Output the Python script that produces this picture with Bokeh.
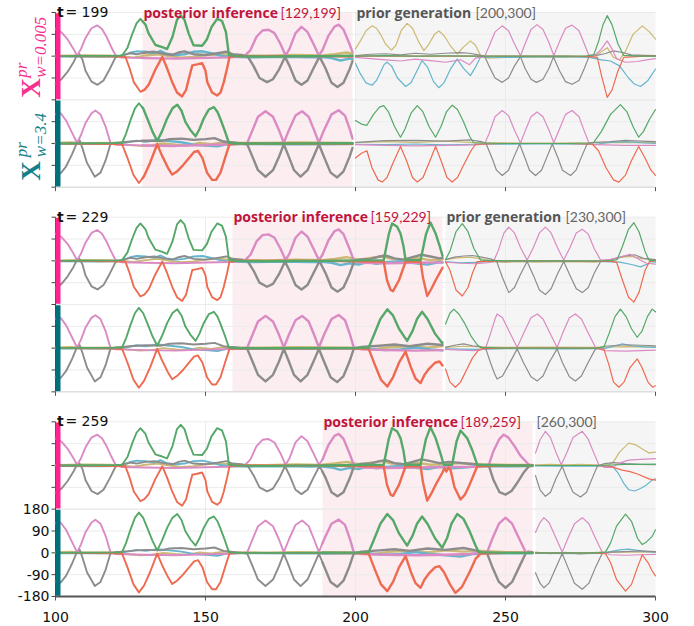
import numpy as np
from bokeh.plotting import figure
from bokeh.models import Range1d, Label
from bokeh.embed import file_html
from bokeh.resources import INLINE

# ---------------- data ----------------
X_TICKS = [100, 150, 200, 250, 300]
Y_TICKS = [-180, -90, 0, 90, 180]
T_END = [199, 229, 259]
POST_START = [129, 159, 189]
T_MAX = 300
SERIES = ["olive", "cyan", "gray", "pink", "red", "green"]
COLORS = {"olive": "#CCB974", "cyan": "#64B5CD", "gray": "#8C8C8C",
          "pink": "#DA8BC3", "red": "#EE6A50", "green": "#55A868"}
ROW_SUBS = ["w=0.005", "w=3.4"]

# reconstruction, row w=0.005 (t, value in degrees)
TOP_PINK = [(100,112),(102,98),(104,70),(106,30),(107.2,2),(108.5,30),(110,75),(112,115),(113.9,127),(115.5,112),(117,80),(118.5,40),(120,3),(122,-6),(130,-8),(140,-10),(150,-7),(158,-5),(163,0),(165,25),(167,80),(169,106),(171,109),(173,95),(175,50),(176.7,3),(178,30),(180,95),(182,121),(184,100),(186,50),(187.8,3),(189,25),(191,85),(193,122),(194.4,130),(196,110),(198,50),(199.4,3),(202,-8),(210,-10),(220,-8),(230,-6),(240,-5),(243,-2),(244.4,2),(246,60),(248,110),(249.4,127),(251,115),(253,80),(255,40),(257.8,3),(259,0)]
TOP_GRAY = [(100,-113),(102,-95),(104,-65),(106,-25),(107,0),(108,8),(109,-15),(110,-60),(112,-105),(114,-118),(116,-100),(118,-55),(120,-5),(122,3),(125,12),(127,8),(130,15),(133,18),(136,10),(139,5),(141,15),(143,20),(146,8),(150,5),(154,12),(157,18),(159,8),(162,5),(164,0),(166,-40),(168,-90),(170.5,-107),(172.5,-95),(174.5,-55),(176.5,-3),(178,-40),(180,-100),(182,-118),(184,-100),(186,-50),(188,-2),(190,-50),(192,-110),(194,-127),(196,-110),(198,-55),(199.5,-3),(201,5),(205,8),(208,18),(210,22),(213,10),(216,5),(219,15),(222,25),(225,18),(228,10),(231,15),(234,12),(237,8),(240,5),(243,0),(244.5,-3),(246,-60),(248,-110),(250,-120),(252,-105),(254,-70),(256,-30),(257.8,-3),(259,0)]
TOP_GREEN = [(100,0),(110,1),(120,2),(122.2,3),(124,35),(125.6,92),(127,135),(128.3,154),(130,130),(131,95),(133.3,46),(135.6,37),(137.2,29),(139,80),(140.5,150),(141.7,168),(143,150),(144.4,93),(146,45),(148.9,43),(150.5,70),(152,120),(153.9,154),(155.5,145),(156.8,100),(157.8,5),(160,0),(170,-2),(180,0),(190,0),(200,2),(209.4,3),(211.1,110),(212.2,154),(213.9,140),(215,113),(216,60),(216.7,3),(221.7,3),(223.5,110),(225,158),(226.7,113),(228.3,51),(229.4,3),(232.2,3),(233.7,100),(235,144),(237.2,113),(238.9,64),(240.6,3),(250,0),(259,0)]
TOP_RED = [(100,0),(110,-1),(120,-2),(123.3,-3),(124.7,-50),(126.1,-107),(128.3,-147),(129.7,-138),(131.1,-117),(133.3,-55),(135.6,-3),(137.2,-50),(138.9,-107),(140.5,-150),(142.2,-166),(143.5,-140),(144.4,-95),(145.6,-38),(147.2,-34),(148.9,-29),(150,-60),(150.6,-107),(152.2,-150),(153.9,-162),(155,-150),(156.1,-107),(157.2,-50),(158,-3),(160,0),(190,0),(200,-2),(209.4,-3),(210.5,-80),(211.7,-120),(212.5,-125),(214.5,-80),(216.7,-3),(221.7,-3),(222.5,-70),(223.9,-145),(225.3,-115),(226.7,-80),(228.9,-31),(229.6,-12),(230.3,-25),(231,-8),(231.7,-20),(233,-90),(235,-140),(236.5,-120),(238,-80),(239.5,-35),(240.6,-3),(250,0),(259,0)]
TOP_CYAN = [(100,-2),(115,-3),(120,-2),(123,5),(125,15),(127,20),(130,18),(133,12),(135,22),(137,10),(140,5),(143,8),(146,18),(149,20),(152,12),(155,2),(158,-3),(165,-5),(175,-3),(185,-5),(189,-4),(192,-8),(195,-18),(198,-10),(201,-15),(204,-5),(207,-12),(210,-6),(215,-2),(220,-10),(224,-15),(228,-5),(232,-12),(236,-8),(240,-4),(245,-2),(252,-3),(259,-2)]
TOP_OLIVE = [(100,2),(110,4),(118,3),(122,0),(126,-5),(130,3),(134,8),(138,0),(142,-6),(146,-3),(150,5),(155,8),(160,3),(170,2),(180,5),(189,3),(193,8),(197,15),(201,5),(205,12),(209,18),(212,8),(216,5),(220,12),(225,3),(230,6),(235,10),(240,5),(248,3),(259,2)]

# reconstruction, row w=3.4
BOT_PINK = [(100,122),(101.7,125),(103.5,95),(105.5,45),(107.2,2),(108.5,35),(110,85),(112,125),(113.3,136),(115,120),(116.7,70),(118.3,3),(120,-5),(130,-8),(140,-10),(150,-6),(160,-3),(163.9,2),(165.5,50),(167.5,110),(170,133),(172.5,110),(174.5,55),(176.1,3),(177.8,55),(180,115),(182.2,133),(184.4,110),(186.2,55),(187.8,3),(189.5,55),(192,120),(194.4,137),(196.5,115),(198.2,55),(199.4,3),(202,-5),(210,-8),(220,-10),(230,-8),(238,-5),(243.9,2),(245.5,55),(247.8,120),(250,145),(252.2,120),(254.5,60),(256.7,3),(259,0)]
BOT_GRAY = [(100,-118),(101.7,-123),(103.5,-95),(105.5,-45),(107.2,5),(108,14),(109,-20),(110.5,-80),(113.1,-137),(115,-120),(116.7,-70),(118.3,-3),(120,3),(125,8),(130,12),(135,10),(138,18),(142,20),(146,15),(150,18),(153,22),(156,8),(160,3),(163.9,-3),(165.5,-50),(167.5,-110),(170,-137),(172.5,-110),(174.5,-55),(176.1,-3),(177.8,-55),(179.5,-110),(181.7,-137),(184,-110),(186,-55),(187.8,-3),(189.5,-55),(191.7,-120),(193.9,-140),(196,-115),(198,-55),(199.4,-3),(202,5),(208,10),(213,15),(218,8),(224,18),(230,12),(236,20),(240,10),(243.9,-3),(245.5,-55),(247.8,-120),(250,-144),(252.2,-120),(254.5,-60),(256.7,-3),(257.5,5),(259,3)]
BOT_GREEN = [(100,0),(110,1),(120,2),(122.2,3),(123.5,40),(125,96),(126.5,145),(127.8,166),(129.2,145),(130.6,103),(132.3,50),(133.9,10),(135.5,50),(137.2,103),(139,145),(140.6,160),(142,135),(143.3,89),(145,55),(146.7,30),(148,60),(149.4,103),(151.1,140),(152.8,150),(154,130),(155,100),(156.5,50),(157.8,3),(160,0),(180,0),(200,1),(204.4,3),(206,50),(208.3,120),(210.6,160),(212.5,135),(214.5,80),(217.2,30),(219,70),(220.5,120),(222.2,150),(224,120),(226.5,60),(228.9,21),(230.5,60),(232,120),(233.9,160),(236,140),(238,90),(240,30),(241.1,3),(250,0),(259,0)]
BOT_RED = [(100,0),(110,-1),(120,-2),(122.2,-3),(124,-60),(126,-130),(127.8,-163),(129.5,-135),(131.5,-80),(133.9,-3),(135.5,-50),(137.5,-100),(138.9,-128),(140.5,-115),(142.5,-90),(144.5,-60),(146.2,-35),(147.5,-30),(149,-60),(150.5,-120),(152.2,-150),(153.5,-150),(155,-120),(156.5,-60),(158,-3),(160,0),(200,-1),(204.4,-3),(206.5,-70),(208.5,-130),(210.6,-158),(212.5,-120),(214.5,-60),(216.7,-14),(218.5,-80),(220,-125),(221.7,-144),(223,-110),(224.5,-85),(226.5,-60),(228,-55),(229.5,-80),(231.5,-130),(233.3,-165),(235.5,-140),(238,-80),(240,-25),(241.7,-3),(250,0),(259,0)]
BOT_CYAN = [(100,-2),(120,-2),(124,5),(127,12),(130,8),(134,15),(138,10),(142,5),(146,-5),(150,-8),(154,-12),(157,-3),(160,-2),(180,-3),(199,-2),(204,-3),(210,-8),(215,-5),(220,3),(225,-5),(230,-10),(235,-15),(239,-5),(245,-2),(259,-2)]
BOT_OLIVE = [(100,3),(105,5),(110,2),(120,3),(124,-5),(128,-10),(132,-8),(136,0),(140,-5),(144,-8),(148,2),(152,-3),(156,5),(160,3),(170,2),(180,4),(190,3),(200,2),(206,-5),(212,5),(218,8),(224,2),(230,10),(236,5),(242,8),(250,3),(259,2)]

# prior generation, group t=199, row w=0.005
G1T_PINK = [(200,-5),(205,-10),(210,-15),(215,-20),(220,-12),(225,-18),(230,-25),(235,-15),(238,-35),(240,-8),(243,-2),(244.5,40),(246.5,100),(248.9,125),(251,105),(253,50),(255,2),(256.5,50),(258.5,110),(260.5,130),(262.5,110),(264.5,55),(266.1,3),(268,60),(270,115),(272.2,128),(274.5,105),(276.3,50),(277.8,3),(280,5),(282,30),(283.9,63),(285.5,30),(287,-10),(290,-25),(294,-22),(297,-15),(300,-10)]
G1T_GRAY = [(200,2),(205,8),(210,10),(215,5),(220,12),(225,8),(230,12),(235,15),(238,12),(241,5),(243,0),(244.5,-40),(246.5,-90),(248.9,-108),(251,-90),(253,-40),(255,-2),(256.5,-50),(258.5,-95),(260.3,-108),(262.5,-95),(264.5,-50),(266,-3),(268,-60),(270,-105),(272.2,-116),(274.5,-100),(276.3,-50),(277.8,-3),(280,2),(283,10),(286,22),(289,15),(292,5),(296,3),(300,2)]
G1T_GREEN = [(200,0),(210,2),(220,0),(230,1),(240,0),(250,0),(260,0),(270,0),(277,1),(279.4,5),(281,60),(282.5,130),(283.9,167),(285.5,130),(287.5,50),(289.4,3),(295,0),(300,0)]
G1T_RED = [(200,0),(240,0),(270,0),(278,-2),(280.6,-5),(282,-80),(283.9,-170),(285.5,-140),(287.5,-60),(289.4,-5),(292,-3),(296,0),(300,0)]
G1T_CYAN = [(200,-30),(201.5,-70),(203.5,-110),(205.5,-120),(207,-100),(208.3,-67),(209.5,-35),(210.5,-25),(212,-40),(214,-90),(216.7,-125),(218.5,-110),(220.5,-60),(222.2,-18),(224,-45),(226,-105),(227.8,-130),(229.5,-110),(231.8,-50),(233.9,-12),(236,-50),(238.3,-80),(240,-45),(241.7,-3),(250,-5),(260,-3),(270,-2),(278,-5),(282,-15),(285,-20),(288,-40),(291,-90),(293,-115),(295,-125),(297.5,-100),(300,-53)]
G1T_OLIVE = [(200,30),(201.5,60),(203.5,105),(205.5,125),(207,115),(208.3,91),(210,50),(212,25),(213.5,45),(215.2,105),(217.2,135),(219,115),(221,60),(222.8,23),(224.5,50),(226.3,90),(227.8,104),(229.5,85),(231.8,40),(233.9,9),(235.8,35),(238.3,63),(240,45),(241.7,3),(244,-8),(250,-5),(260,-3),(270,-5),(278,0),(281,10),(283.9,35),(286,-5),(288,-15),(290,20),(292.5,90),(295.6,125),(298,100),(300,70)]

# prior generation, group t=199, row w=3.4
G1B_PINK = [(200,-5),(210,-8),(220,-10),(230,-8),(240,-6),(243,-2),(244.5,40),(246.5,110),(248.9,136),(251,115),(253,55),(255,2),(256.5,50),(258.5,110),(260.5,130),(262.5,110),(264.5,55),(266.1,3),(268,60),(270,120),(272.2,136),(274.5,110),(276.3,50),(277.8,3),(280,-5),(290,-8),(300,-8)]
G1B_GRAY = [(200,5),(210,12),(220,13),(230,10),(238,15),(242,8),(243.5,0),(245.5,-60),(247,-110),(248.9,-132),(251,-110),(253,-50),(254.7,-2),(256.5,-60),(258,-110),(260,-132),(262,-110),(264,-50),(265.6,-2),(267.5,-60),(269,-110),(271.7,-132),(273.5,-110),(275.5,-50),(277.2,-2),(280,5),(285,8),(290,13),(295,10),(300,8)]
G1B_GREEN = [(200,95),(202,80),(203.8,75),(206,120),(208,150),(209.4,156),(211,130),(213,70),(215,26),(216.5,60),(218.5,125),(220.6,156),(222.5,130),(224.5,70),(226.7,26),(228.5,70),(230.3,130),(232.2,158),(234,140),(236,90),(238,30),(239.4,3),(250,0),(260,0),(270,0),(278,2),(279.4,5),(282,50),(285,120),(288.3,160),(290.5,130),(292.5,70),(294.4,26),(296,50),(298,100),(300,140)]
G1B_RED = [(200,-60),(202,-40),(203.8,-30),(205.5,-100),(207.5,-150),(208.9,-159),(210.5,-140),(212.5,-80),(215,-12),(217,-70),(219,-140),(220.6,-159),(222.5,-140),(224.5,-80),(226.7,-12),(228.5,-70),(230.5,-140),(232.2,-159),(234,-140),(236,-90),(238.5,-30),(240,-3),(250,0),(270,0),(279,-3),(281,-30),(283.5,-100),(286,-150),(287.8,-159),(290,-130),(292,-70),(294.4,-12),(296.5,-60),(298.5,-110),(300,-131)]
G1B_CYAN = [(200,-3),(210,-5),(220,-2),(230,-6),(240,-3),(260,-2),(280,-3),(285,5),(290,8),(295,3),(300,0)]
G1B_OLIVE = [(200,3),(210,8),(220,5),(230,10),(240,4),(260,2),(280,3),(290,5),(300,4)]

# prior generation, group t=229, row w=0.005
G2T_PINK = [(230,-5),(235,-10),(240,-12),(244,-8),(246,-3),(247.5,40),(249.5,115),(251.1,139),(253,115),(255,55),(257.2,3),(259.3,55),(261.3,115),(263.3,139),(265.2,115),(267.3,55),(269.4,3),(271.5,55),(273.6,115),(275.6,130),(277.6,110),(279.6,50),(281.7,3),(285,5),(288,15),(291.5,27),(294,10),(297,-10),(300,-14)]
G2T_GRAY = [(230,5),(233,15),(236,20),(239,22),(242,15),(245,8),(247,0),(249,-70),(251.1,-131),(253,-110),(255,-55),(257.2,-3),(259.3,-60),(261.3,-120),(263.3,-139),(265.2,-115),(267.3,-55),(269.4,-3),(271.5,-60),(273.6,-115),(275.6,-131),(277.6,-110),(279.6,-50),(281.7,-3),(285,5),(290,20),(293,25),(296,10),(300,5)]
G2T_GREEN = [(230,5),(231.5,40),(233.5,120),(235.6,153),(237.5,120),(239.5,50),(241.7,3),(250,0),(260,0),(270,0),(280,0),(285,1),(287.2,5),(289,60),(291,130),(292.8,157),(294.5,120),(296.5,40),(297.8,3),(300,0)]
G2T_RED = [(230,-3),(231.5,-40),(233.5,-120),(235.6,-145),(237.5,-110),(239,-50),(240.6,-3),(250,0),(270,0),(285,-2),(287,-5),(289,-80),(291,-150),(292.8,-170),(294.5,-130),(296.5,-40),(298,-3),(300,0)]
G2T_CYAN = [(230,-3),(235,-8),(240,-6),(245,-3),(260,-2),(280,-2),(288,-5),(292,-15),(295,-25),(298,-10),(300,-8)]
G2T_OLIVE = [(230,5),(234,12),(238,15),(242,8),(246,-3),(250,-6),(255,-3),(260,-5),(270,-3),(280,-5),(285,5),(289,15),(292,18),(295,10),(300,3)]

# prior generation, group t=229, row w=3.4
G2B_PINK = [(230,-5),(235,-8),(240,-10),(242,-6),(243.5,5),(245,60),(246.5,120),(247.2,141),(249,125),(251,75),(253.9,3),(256,60),(258.5,125),(260.6,141),(262.5,120),(264.5,70),(267.2,3),(269,60),(271.3,125),(273.3,141),(275.3,120),(277.5,65),(280,3),(283,-10),(290,-12),(300,-8)]
G2B_GRAY = [(230,3),(233,12),(236,18),(239,10),(242,5),(243.5,-5),(245,-60),(246.5,-110),(247.2,-127),(249,-115),(251,-70),(253.9,-3),(256,-60),(258.5,-118),(260.6,-135),(262.5,-115),(264.5,-60),(267.2,-3),(269,-60),(271.3,-118),(273.3,-135),(275.3,-115),(277.5,-60),(280,-3),(283,8),(290,14),(295,12),(300,10)]
G2B_GREEN = [(230,100),(231.5,145),(232.8,161),(234.5,140),(236.5,100),(238.5,50),(240.5,15),(241.7,3),(250,0),(260,0),(270,0),(280,0),(282.8,5),(284.5,60),(286.5,130),(288.3,161),(290.2,130),(292,80),(293.9,45),(295.5,70),(297.3,130),(298.9,161),(300,150)]
G2B_RED = [(230,-86),(231.5,-140),(233.3,-161),(235,-140),(237,-90),(239,-40),(241,-8),(242.5,-2),(250,0),(270,0),(280,-1),(282.8,-5),(284.5,-70),(286,-140),(287.8,-161),(289.5,-140),(291.5,-80),(293.9,-44),(295.5,-80),(297.5,-140),(299,-161),(300,-155)]
G2B_CYAN = [(230,-3),(240,-5),(250,-2),(270,-3),(283,-2),(286,8),(289,18),(292,10),(296,5),(300,3)]
G2B_OLIVE = [(230,3),(236,8),(242,5),(250,3),(260,4),(280,3),(290,6),(300,5)]

# prior generation, group t=259, row w=0.005
G3T_PINK = [(260,51),(261.5,105),(263.3,141),(265,115),(266.8,55),(268.6,3),(270.5,55),(272.5,115),(275.6,141),(277.5,110),(279.5,50),(281.1,3),(283,-8),(285.5,-8),(288,10),(291,22),(295,25),(300,28)]
G3T_GRAY = [(260,-42),(261.5,-100),(263.3,-127),(265,-110),(266.8,-55),(268.9,-3),(270.5,-55),(272.5,-110),(275,-130),(277,-110),(279,-50),(280.6,-3),(283,8),(286,12),(290,8),(295,5),(300,3)]
G3T_GREEN = [(260,0),(280,0),(285,2),(290,5),(295,5),(300,6)]
G3T_RED = [(260,0),(270,0),(280,0),(284.4,-2),(286.5,-10),(288.9,-19),(291.5,-25),(294,-35),(297.8,-55),(300,-60)]
G3T_CYAN = [(260,-2),(270,-3),(280,-2),(285.6,-3),(287.5,-30),(289.5,-75),(291.1,-100),(293,-105),(295,-95),(297,-80),(298.9,-60),(300,-55)]
G3T_OLIVE = [(260,3),(265,5),(270,3),(275,5),(280,3),(284.4,2),(286,15),(288,55),(291.1,92),(293.5,85),(296,65),(297.8,52),(300,55)]

# prior generation, group t=259, row w=3.4
G3B_PINK = [(260,84),(261.5,125),(262.8,145),(264.5,125),(266.5,70),(268.9,3),(270.8,60),(273,120),(275.6,145),(277.8,120),(280,60),(282.2,3),(285,-8),(290,-10),(295,-8),(300,-6)]
G3B_GRAY = [(260,-82),(261.5,-125),(262.8,-144),(264.5,-125),(266.5,-70),(268.9,-3),(270.8,-60),(273,-125),(275.6,-150),(277.8,-125),(280,-60),(282.2,-3),(285,3),(290,5),(295,8),(300,5)]
G3B_GREEN = [(260,0),(270,0),(280,0),(283.3,3),(285,40),(287,110),(290,160),(292,130),(294,60),(295.6,34),(297,45),(298.9,68),(300,95)]
G3B_RED = [(260,0),(280,0),(283.3,-3),(285,-40),(287,-110),(290,-158),(292,-130),(294,-60),(295.6,-8),(297.5,-40),(298.9,-75),(300,-95)]
G3B_CYAN = [(260,-2),(275,-3),(282,-2),(285,5),(288,12),(291,15),(294,10),(297,5),(300,3)]
G3B_OLIVE = [(260,3),(265,-3),(270,2),(275,-5),(280,2),(290,4),(300,3)]

BASE = [
    dict(olive=TOP_OLIVE, cyan=TOP_CYAN, gray=TOP_GRAY, pink=TOP_PINK, red=TOP_RED, green=TOP_GREEN),
    dict(olive=BOT_OLIVE, cyan=BOT_CYAN, gray=BOT_GRAY, pink=BOT_PINK, red=BOT_RED, green=BOT_GREEN),
]
PRIOR = [
    [dict(olive=G1T_OLIVE, cyan=G1T_CYAN, gray=G1T_GRAY, pink=G1T_PINK, red=G1T_RED, green=G1T_GREEN),
     dict(olive=G1B_OLIVE, cyan=G1B_CYAN, gray=G1B_GRAY, pink=G1B_PINK, red=G1B_RED, green=G1B_GREEN)],
    [dict(olive=G2T_OLIVE, cyan=G2T_CYAN, gray=G2T_GRAY, pink=G2T_PINK, red=G2T_RED, green=G2T_GREEN),
     dict(olive=G2B_OLIVE, cyan=G2B_CYAN, gray=G2B_GRAY, pink=G2B_PINK, red=G2B_RED, green=G2B_GREEN)],
    [dict(olive=G3T_OLIVE, cyan=G3T_CYAN, gray=G3T_GRAY, pink=G3T_PINK, red=G3T_RED, green=G3T_GREEN),
     dict(olive=G3B_OLIVE, cyan=G3B_CYAN, gray=G3B_GRAY, pink=G3B_PINK, red=G3B_RED, green=G3B_GREEN)],
]

# ---------------- layout ----------------
PANEL_PX = 87.33
PX = 360 / PANEL_PX       # value units per pixel
TPX = 1 / 3               # time units per pixel
TOP_PAD = 12 * PX
GAP = 30 * PX
LEFT_PAD_PX = 55
RIGHT_PAD_PX = 25
BOTTOM_PAD = 30 * PX
OFFSETS = [1800 + 2 * GAP, 1440 + 2 * GAP, 1080 + GAP, 720 + GAP, 360, 0]
Y_MAX = OFFSETS[0] + 180 + TOP_PAD
Y_MIN = -180 - BOTTOM_PAD
X_MIN = 100 - LEFT_PAD_PX * TPX
X_MAX = T_MAX + RIGHT_PAD_PX * TPX

ROW_COLORS = ["#FF2290", "#00707C"]
LABEL_COLORS = ["#F5308F", "#13808A"]
CRIMSON = "#C0143C"
GRID = "#EBEBEB"
AXIS = "#444444"

p = figure(width=680, height=626, x_range=Range1d(X_MIN, X_MAX), y_range=Range1d(Y_MIN, Y_MAX),
           output_backend="svg", toolbar_location=None, y_axis_location=None, x_axis_location=None,
           min_border_left=0, min_border_right=0, min_border_top=0, min_border_bottom=0)
p.outline_line_color = None
p.grid.visible = False
p.background_fill_color = "white"
p.border_fill_color = "white"

for g in range(3):
    top = OFFSETS[2 * g] + 180
    bot = OFFSETS[2 * g + 1] - 180
    ps, te = POST_START[g], T_END[g]
    # shaded regions
    p.quad(left=[ps], right=[te], bottom=[bot], top=[top], fill_color="#FBEDF0", line_color=None)
    p.quad(left=[te + 1], right=[T_MAX], bottom=[bot], top=[top], fill_color="#F5F5F5", line_color=None)
    # grid
    gx = [t for t in X_TICKS if 100 < t < T_MAX]
    p.segment(x0=gx, x1=gx, y0=[bot] * len(gx), y1=[top] * len(gx), line_color=GRID, line_width=1)
    hy = [OFFSETS[2 * g + r] + v for r in range(2) for v in Y_TICKS if v != 0]
    p.segment(x0=[100] * len(hy), x1=[T_MAX] * len(hy), y0=hy, y1=hy, line_color=GRID, line_width=1)
    # y axis of the group: line + ticks
    p.segment(x0=[100], x1=[100], y0=[bot], y1=[top], line_color=AXIS, line_width=1)
    ty = sorted(set(OFFSETS[2 * g + r] + v for r in range(2) for v in Y_TICKS))
    p.segment(x0=[100 - 4 * TPX] * len(ty), x1=[100] * len(ty), y0=ty, y1=ty, line_color=AXIS, line_width=1)
    # x axis of the group
    last = g == 2
    p.segment(x0=[100], x1=[T_MAX], y0=[bot], y1=[bot], line_color="#555555" if last else "#D5D5D5",
              line_width=2 if last else 1)
    p.segment(x0=X_TICKS, x1=X_TICKS, y0=[bot] * 5, y1=[bot - 4 * PX] * 5, line_color="#555555", line_width=1)

# tick labels on the bottom panel
for v in Y_TICKS:
    p.add_layout(Label(x=100 - 6 * TPX, y=OFFSETS[5] + v, text="%d" % v, text_font="DejaVu Sans",
                       text_font_size="14px", text_color="#111111", text_align="right",
                       text_baseline="middle"))
for t in X_TICKS:
    p.add_layout(Label(x=t, y=-180 - 21 * PX, text="%d" % t, text_font="DejaVu Sans",
                       text_font_size="14px", text_color="#111111", text_align="center",
                       text_baseline="alphabetic"))


def seg(points, a, b):
    ts = np.array([q[0] for q in points], float)
    vs = np.array([q[1] for q in points], float)
    m = (ts > a) & (ts < b)
    x = np.concatenate([[a], ts[m], [b]])
    y = np.concatenate([[np.interp(a, ts, vs)], vs[m], [np.interp(b, ts, vs)]])
    return x, y


for g in range(3):
    ps, te = POST_START[g], T_END[g]
    for r in range(2):
        off = OFFSETS[2 * g + r]
        for name in SERIES:
            c = COLORS[name]
            x, y = seg(BASE[r][name], 100, ps)
            p.line(x, y + off, line_color=c, line_width=1.9, line_join="round", line_cap="round")
            x, y = seg(BASE[r][name], ps, te)
            p.line(x, y + off, line_color=c, line_width=2.4, line_join="round", line_cap="round")
            pr = PRIOR[g][r][name]
            p.line([q[0] for q in pr], [q[1] + off for q in pr], line_color=c, line_width=1.2,
                   line_join="round", line_cap="round")
        # colored row marker bar
        p.quad(left=[100], right=[100 + 5 * TPX], bottom=[off - 180 + 0.7 * PX], top=[off + 180 - 0.7 * PX],
               fill_color=ROW_COLORS[r], line_color=None)

    # texts
    ty = OFFSETS[2 * g] + 180 + 0.5 * PX
    p.add_layout(Label(x=100.5, y=ty, text="t", text_font="DejaVu Sans", text_font_style="bold",
                       text_font_size="14px", text_color="#111111", text_baseline="alphabetic"))
    p.add_layout(Label(x=103.3, y=ty, text="= %d" % te, text_font="DejaVu Sans",
                       text_font_size="14px", text_color="#111111", text_baseline="alphabetic"))
    p.add_layout(Label(x=ps + 0.3, y=ty, text="posterior inference", text_font="Open Sans",
                       text_font_style="bold", text_font_size="14px", text_color=CRIMSON,
                       text_baseline="alphabetic"))
    p.add_layout(Label(x=ps + 46, y=ty, text="[%d,%d]" % (ps, te), text_font="Lato",
                       text_font_size="14px", text_color=CRIMSON, text_baseline="alphabetic"))
    if g < 2:
        p.add_layout(Label(x=te + 1.3, y=ty, text="prior generation", text_font="Open Sans",
                           text_font_style="bold", text_font_size="14px", text_color="#555555",
                           text_baseline="alphabetic"))
        p.add_layout(Label(x=te + 41, y=ty, text="[%d,%d]" % (te + 1, T_MAX), text_font="Lato",
                           text_font_size="14px", text_color="#666666", text_baseline="alphabetic"))
    else:
        p.add_layout(Label(x=te + 1.3, y=ty, text="[%d,%d]" % (te + 1, T_MAX), text_font="Lato",
                           text_font_size="14px", text_color="#666666", text_baseline="alphabetic"))

# rotated row labels
X_START = [2, 6.5]
SUB_START = [22, 30]
for r in range(2):
    b = OFFSETS[r] - 180
    p.add_layout(Label(x=100 - 25 * TPX, y=b + X_START[r] * PX, text="X", angle=np.pi / 2,
                       text_font="Liberation Serif", text_font_style="bold", text_font_size="27px",
                       text_color=LABEL_COLORS[r], text_align="left", text_baseline="alphabetic"))
    p.add_layout(Label(x=100 - 34.5 * TPX, y=b + SUB_START[r] * PX, text="pr", angle=np.pi / 2,
                       text_font="Liberation Serif", text_font_style="italic", text_font_size="17px",
                       text_color=LABEL_COLORS[r], text_align="left", text_baseline="alphabetic"))
    p.add_layout(Label(x=100 - 15 * TPX, y=b + SUB_START[r] * PX, text=ROW_SUBS[r], angle=np.pi / 2,
                       text_font="Liberation Serif", text_font_style="italic", text_font_size="17px",
                       text_color=LABEL_COLORS[r], text_align="left", text_baseline="alphabetic"))

open("out.html", "w").write(file_html(p, INLINE))
